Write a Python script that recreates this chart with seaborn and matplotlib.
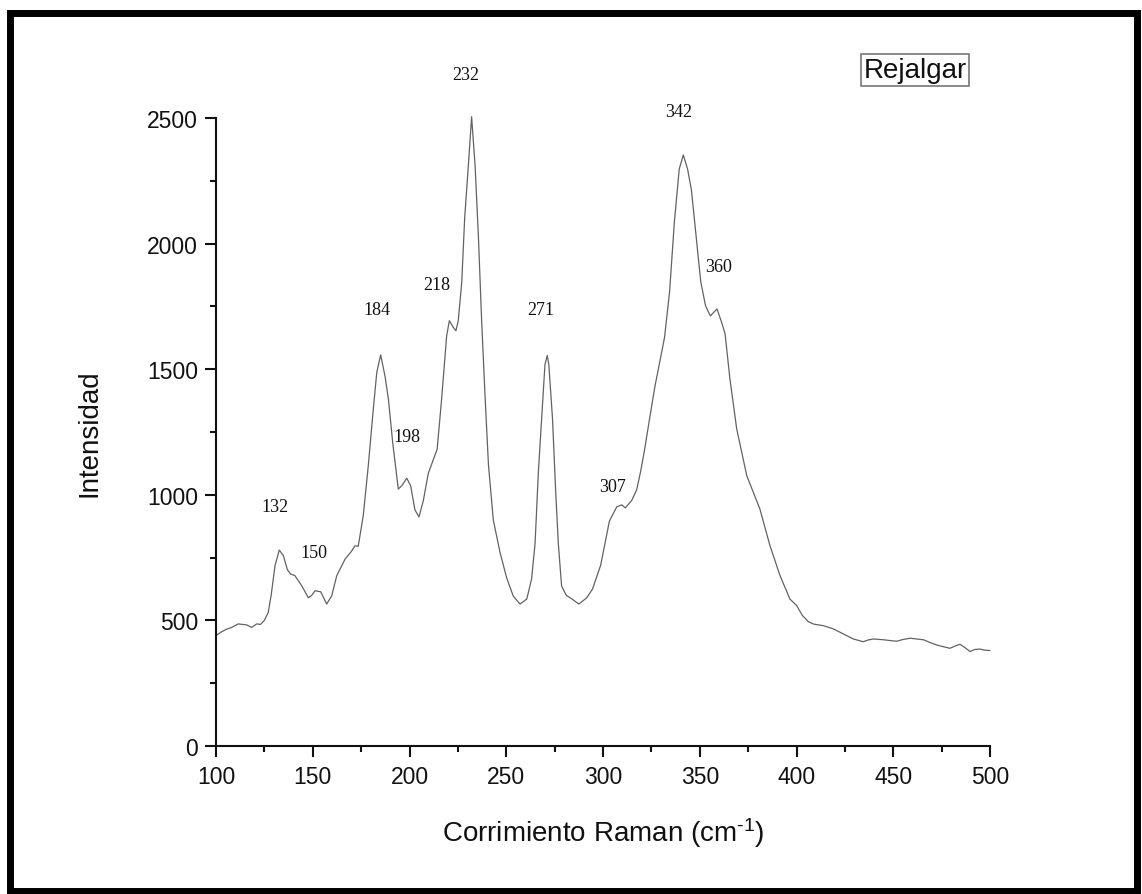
import numpy as np
import pandas as pd
import matplotlib
matplotlib.use("Agg")
import matplotlib.pyplot as plt
import seaborn as sns
from matplotlib.patches import Rectangle
from matplotlib.ticker import MultipleLocator

# ---- data ----
raman_shift = [
    100.0, 103.0, 105.5, 108.1, 111.5, 115.9, 118.4, 121.0, 123.0, 125.0,
    127.0, 128.5, 130.5, 132.7, 134.8, 136.9, 138.5, 140.8, 144.3, 147.7,
    149.5, 151.2, 154.1, 157.2, 159.8, 162.4, 166.7, 170.0, 171.8, 173.5,
    176.1, 178.7, 181.3, 183.1, 185.1, 187.3, 189.1, 191.3, 194.2, 196.0,
    198.6, 200.6, 202.8, 204.9, 207.1, 209.7, 212.3, 214.3, 216.6, 219.2,
    220.6, 222.6, 224.0, 225.2, 227.0, 228.5, 230.4, 232.1, 233.9, 235.6,
    237.3, 239.0, 240.8, 243.3, 246.8, 250.2, 253.6, 257.1, 260.6, 263.1,
    264.9, 266.6, 268.3, 270.0, 271.2, 272.0, 273.9, 275.5, 276.9, 278.6,
    281.0, 284.0, 287.5, 291.6, 294.6, 298.8, 303.3, 307.1, 309.7, 311.5,
    314.8, 317.4, 319.5, 321.5, 323.8, 326.8, 331.8, 334.4, 336.9, 339.4,
    341.5, 343.7, 345.7, 347.9, 350.5, 353.0, 355.5, 358.9, 361.5, 363.1,
    365.6, 369.1, 374.3, 377.7, 381.1, 386.3, 391.5, 396.6, 400.0, 403.0,
    406.1, 409.0, 413.9, 419.1, 424.2, 429.4, 434.5, 437.0, 439.7, 444.9,
    448.0, 451.8, 455.0, 458.7, 462.0, 465.6, 469.0, 472.5, 476.0, 479.3,
    482.0, 484.5, 487.0, 489.7, 492.0, 494.8, 497.0, 500.0,
]
intensity = [
    440, 455, 465, 472, 486, 482, 472, 486, 484, 500,
    532, 600, 718, 780, 758, 702, 685, 678, 638, 590,
    600, 618, 614, 565, 598, 678, 744, 775, 797, 795,
    917, 1116, 1342, 1488, 1557, 1474, 1381, 1209, 1023, 1036,
    1066, 1036, 940, 912, 975, 1085, 1140, 1182, 1381, 1633,
    1693, 1667, 1653, 1693, 1846, 2100, 2310, 2505, 2310, 2030,
    1690, 1400, 1120, 900, 770, 670, 597, 565, 585, 665,
    807, 1091, 1304, 1518, 1555, 1518, 1304, 1020, 807, 637,
    600, 585, 565, 590, 625, 720, 895, 952, 960, 948,
    977, 1020, 1095, 1180, 1290, 1430, 1626, 1808, 2087, 2297,
    2353, 2297, 2213, 2045, 1849, 1752, 1712, 1740, 1682, 1640,
    1461, 1262, 1076, 1010, 943, 797, 678, 585, 560, 520,
    495, 485, 479, 466, 446, 426, 415, 422, 426, 423,
    420, 417, 424, 429, 426, 423, 412, 402, 395, 389,
    398, 405, 392, 376, 384, 386, 382, 380,
]

peak_labels = ["132", "150", "184", "198", "218", "232", "271", "307", "342", "360"]
peak_label_x = [130.5, 150.7, 183.2, 198.6, 214.2, 229.2, 267.9, 305.1, 339.2, 359.5]
peak_label_y = [955, 772, 1736, 1234, 1839, 2675, 1736, 1035, 2524, 1907]

x_ticks = [100, 150, 200, 250, 300, 350, 400, 450, 500]
y_ticks = [0, 500, 1000, 1500, 2000, 2500]

# ---- style ----
sns.set_style("white")
plt.rcParams["font.family"] = ["Liberation Sans", "DejaVu Sans"]
plt.rcParams["mathtext.fontset"] = "custom"
plt.rcParams["mathtext.rm"] = "Liberation Sans"
plt.rcParams["mathtext.default"] = "regular"

df = pd.DataFrame({"shift": raman_shift, "intensity": intensity})

W, H = 1142, 895
fig = plt.figure(figsize=(W / 100, H / 100), dpi=100)
ax = fig.add_axes([216 / W, (H - 747) / H, (990 - 216) / W, (747 - 119) / H])

sns.lineplot(data=df, x="shift", y="intensity", ax=ax, color="#626262",
             linewidth=0.9, sort=False, estimator=None)
for ln in ax.lines:
    ln.set_clip_on(False)

ax.set_xlim(100, 500)
ax.set_ylim(0, 2500)
ax.set_xticks(x_ticks)
ax.set_yticks(y_ticks)
ax.xaxis.set_minor_locator(MultipleLocator(25))
ax.yaxis.set_minor_locator(MultipleLocator(250))

for s in ["top", "right"]:
    ax.spines[s].set_visible(False)
for s in ["left", "bottom"]:
    ax.spines[s].set_linewidth(1.5)
    ax.spines[s].set_color("#111111")

ax.tick_params(which="major", direction="out", length=8, width=1.5,
               colors="#111111", labelsize=16.5)
ax.tick_params(which="minor", direction="out", length=4, width=1.5,
               colors="#111111")
ax.tick_params(axis="x", which="major", pad=6)
ax.tick_params(axis="y", which="major", pad=5)
ax.tick_params(which="both", bottom=True, left=True)

ax.set_xlabel(r"Corrimiento Raman (cm$^{\text{-1}}$)", fontsize=20, color="#111111")
ax.set_ylabel("Intensidad", fontsize=20, color="#111111")
ax.xaxis.set_label_coords(0.5, -0.11)
ax.yaxis.set_label_coords(-0.147, 0.5)

for lab, lx, ly in zip(peak_labels, peak_label_x, peak_label_y):
    ax.text(lx, ly, lab, ha="center", va="center", fontsize=13,
            family=["Liberation Serif", "DejaVu Serif"], color="#111111",
            clip_on=False)

fig.text(915 / W, 1 - 71 / H, "Rejalgar", ha="center", va="center",
         fontsize=20, color="#111111",
         bbox=dict(boxstyle="square,pad=0.1", facecolor="white",
                   edgecolor="#777777", linewidth=1.2))

# outer black frame
fig.add_artist(Rectangle((9.5 / W, (H - 891.5) / H), (1136.5 - 9.5) / W,
                         (891.5 - 13.5) / H, transform=fig.transFigure,
                         fill=False, edgecolor="black", linewidth=5.0))

fig.savefig("out.png", dpi=100)
